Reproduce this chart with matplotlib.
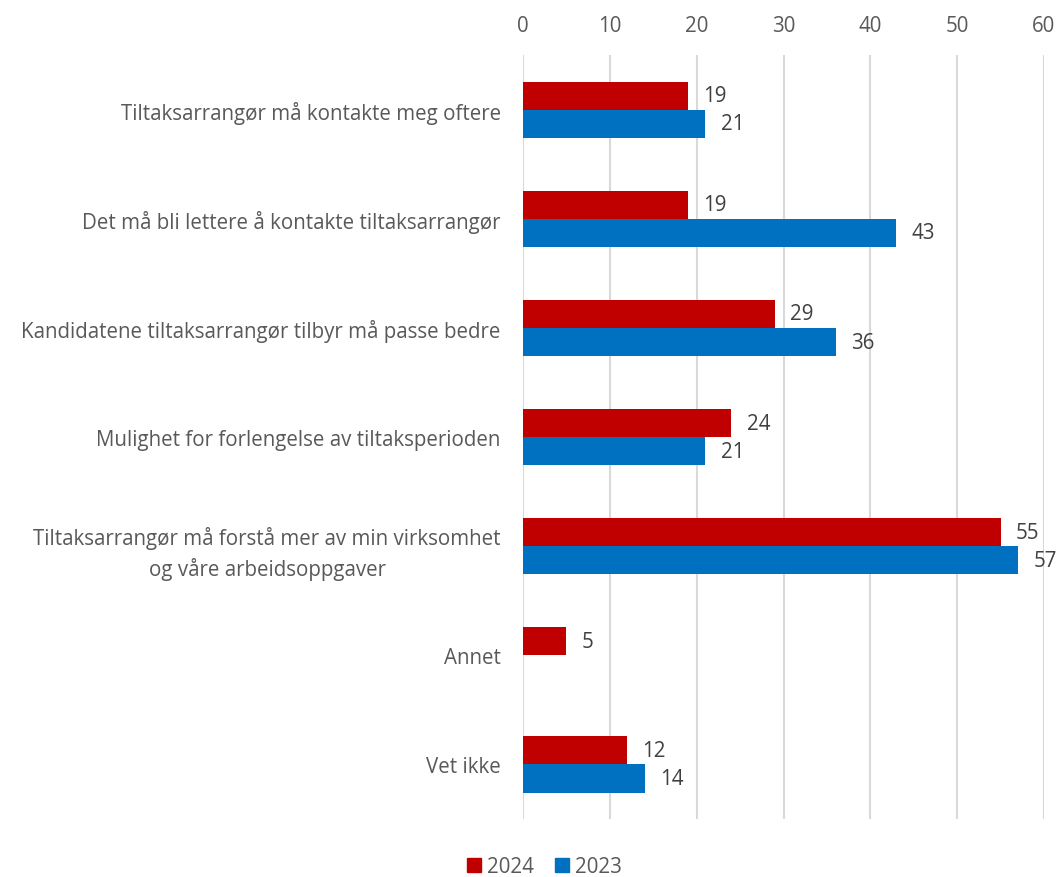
import numpy as np
import matplotlib.pyplot as plt

categories = [
    "Tiltaksarrangør må kontakte meg oftere",
    "Det må bli lettere å kontakte tiltaksarrangør",
    "Kandidatene tiltaksarrangør tilbyr må passe bedre",
    "Mulighet for forlengelse av tiltaksperioden",
    "Tiltaksarrangør må forstå mer av min virksomhet\nog våre arbeidsoppgaver",
    "Annet",
    "Vet ikke",
]
v2024 = [19, 19, 29, 24, 55, 5, 12]
v2023 = [21, 43, 36, 21, 57, None, 14]

red = "#C00000"
blue = "#0070C0"
fs = 14.8
plt.rcParams['font.family'] = ['Open Sans', 'DejaVu Sans']

fig = plt.figure(figsize=(10.59, 8.78), dpi=100)
ax = fig.add_axes([0.4939, 0.066, 0.4919, 0.870])

y = np.arange(len(categories))
h = 0.257

for i, (a, b) in enumerate(zip(v2024, v2023)):
    if a is not None:
        ax.barh(y[i] - h / 2, a, height=h, color=red)
        ax.annotate(str(a), (a, y[i] - h / 2), xytext=(11, 0), textcoords="offset points",
                    va="center", ha="left", fontsize=fs, color="#404040")
    if b is not None:
        ax.barh(y[i] + h / 2, b, height=h, color=blue)
        ax.annotate(str(b), (b, y[i] + h / 2), xytext=(11, 0), textcoords="offset points",
                    va="center", ha="left", fontsize=fs, color="#404040")

ax.set_xlim(0, 60)
ax.set_ylim(len(categories) - 0.5, -0.5)
ax.set_xticks(range(0, 61, 10))
ax.xaxis.tick_top()
ax.set_yticks(y)
ax.set_yticklabels(categories, ha="right")
ax.tick_params(axis="y", length=0, pad=16, labelsize=fs, labelcolor="#595959")
ax.tick_params(axis="x", length=0, pad=14, labelsize=fs, labelcolor="#595959")
for lbl in ax.get_yticklabels():
    lbl.set_multialignment("center")
    lbl.set_linespacing(1.45)
ax.grid(axis="x", color="#D9D9D9", linewidth=1.5)
ax.set_axisbelow(True)
for s in ax.spines.values():
    s.set_visible(False)

handles = [plt.Rectangle((0, 0), 1, 1, color=red), plt.Rectangle((0, 0), 1, 1, color=blue)]
fig.legend(handles, ["2024", "2023"], loc="center", bbox_to_anchor=(0.514, 0.012), ncol=2,
           frameon=False, fontsize=fs, handlelength=0.7, handleheight=0.7,
           handletextpad=0.3, columnspacing=1.0, labelcolor="#595959")

fig.savefig("out.png", dpi=100)
